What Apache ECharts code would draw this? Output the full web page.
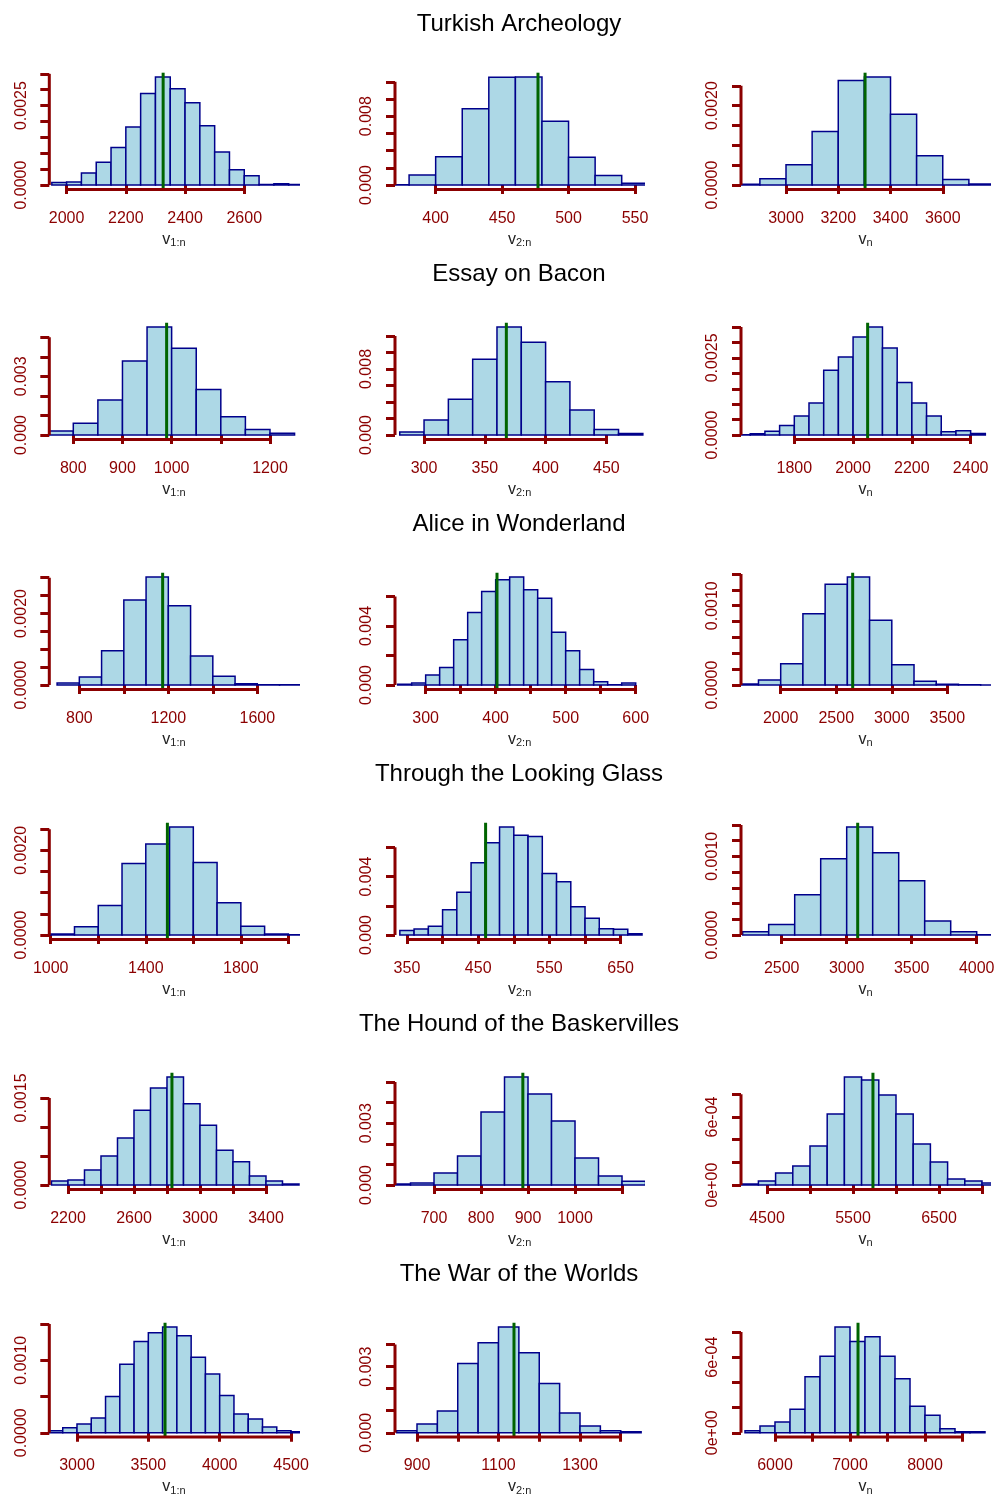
<!DOCTYPE html>
<html>
<head>
<meta charset="utf-8">
<script src="https://cdn.jsdelivr.net/npm/echarts@6/dist/echarts.min.js"></script>
<style>
html,body{margin:0;padding:0;background:#fff;}
#chart{width:998px;height:1497px;}
</style>
</head>
<body>
<div id="chart"></div>
<script>
// ---------- data ----------
const bookTitles = ["Turkish Archeology", "Essay on Bacon", "Alice in Wonderland",
  "Through the Looking Glass", "The Hound of the Baskervilles", "The War of the Worlds"];
const subLabels = ["1:n", "2:n", "n"];

// histogram densities (one array per panel)
const dens_TA_v1 = [0.00008, 0.0001, 0.00038, 0.00072, 0.00118, 0.00183, 0.00288, 0.0034, 0.00303, 0.00259, 0.00187, 0.00104, 0.00048, 0.00029, 0.00002, 0.00004, 0.00002];
const dens_TA_v2 = [0.00005, 0.00118, 0.00329, 0.00886, 0.01251, 0.01255, 0.00741, 0.00322, 0.0011, 0.0002];
const dens_TA_vn = [0.00002, 0.00016, 0.00051, 0.00135, 0.00263, 0.00272, 0.00178, 0.00074, 0.00014, 0.00003];
const dens_EB_v1 = [0.00021, 0.0006, 0.00179, 0.00379, 0.00552, 0.00443, 0.00233, 0.00093, 0.00029, 0.00009];
const dens_EB_v2 = [0.00037, 0.00183, 0.00435, 0.00918, 0.01308, 0.01125, 0.00646, 0.00305, 0.00069, 0.0002];
const dens_EB_vn = [0.00001, 0.00004, 0.00012, 0.00031, 0.00062, 0.00104, 0.0021, 0.00253, 0.00318, 0.0035, 0.00282, 0.0017, 0.00104, 0.00062, 0.00011, 0.00014, 0.00005];
const dens_AW_v1 = [0.000057, 0.000226, 0.00096, 0.00238, 0.00302, 0.00222, 0.00081, 0.000245, 0.00004, 0.00001, 0.00001];
const dens_AW_v2 = [0.00005, 0.00014, 0.00069, 0.00119, 0.00306, 0.00491, 0.00633, 0.00713, 0.00731, 0.00645, 0.00587, 0.00357, 0.00233, 0.00105, 0.00023, 0.00002, 0.00014];
const dens_AW_vn = [0.000013, 0.000064, 0.000268, 0.000898, 0.001272, 0.001362, 0.000817, 0.000255, 0.000047, 0.000009, 0.000004, 0.000002];
const dens_TL_v1 = [0.000024, 0.000198, 0.000698, 0.00169, 0.00215, 0.00255, 0.00171, 0.00076, 0.000206, 0.000024, 0.000008];
const dens_TL_v2 = [0.00032, 0.00042, 0.0006, 0.00173, 0.00293, 0.00494, 0.0063, 0.00738, 0.00681, 0.00674, 0.0042, 0.00365, 0.00194, 0.00115, 0.00044, 0.00039, 0.00009];
const dens_TL_vn = [0.000043, 0.000133, 0.000511, 0.00097, 0.001373, 0.001047, 0.000691, 0.00018, 0.000043, 0.000004];
const dens_HB_v1 = [0.000069, 0.000086, 0.000259, 0.0005, 0.00081, 0.00129, 0.00167, 0.00186, 0.0014, 0.00103, 0.0006, 0.0004, 0.000155, 0.000069, 0.000017];
const dens_HB_v2 = [0.00005, 0.0001, 0.00058, 0.00141, 0.00354, 0.00524, 0.00442, 0.00311, 0.00131, 0.00044, 0.00019];
const dens_HB_vn = [0.0000088, 0.000035, 0.000106, 0.000167, 0.000344, 0.000626, 0.000952, 0.000925, 0.000793, 0.000626, 0.000361, 0.000203, 0.000053, 0.000035, 0.000018];
const dens_WW_v1 = [0.000027, 0.000068, 0.000122, 0.000203, 0.0005, 0.000946, 0.001257, 0.001378, 0.001459, 0.001338, 0.00104, 0.000811, 0.000514, 0.000257, 0.000189, 0.000081, 0.000027, 0.0000135];
const dens_WW_v2 = [0.00009, 0.0004, 0.00099, 0.00314, 0.00408, 0.0048, 0.00363, 0.00224, 0.0009, 0.00031, 0.00009, 0.000045];
const dens_WW_vn = [0.0000156, 0.0000545, 0.0000856, 0.000187, 0.000444, 0.000607, 0.00084, 0.000724, 0.000762, 0.000607, 0.000428, 0.00021, 0.00014, 0.000031, 0.0000078, 0.0000078];

const densities = [dens_TA_v1, dens_TA_v2, dens_TA_vn, dens_EB_v1, dens_EB_v2, dens_EB_vn,
  dens_AW_v1, dens_AW_v2, dens_AW_vn, dens_TL_v1, dens_TL_v2, dens_TL_vn,
  dens_HB_v1, dens_HB_v2, dens_HB_vn, dens_WW_v1, dens_WW_v2, dens_WW_vn];

const breakStart = [1950, 360, 2800, 750, 280, 1600, 700, 260, 1600, 1000, 340, 2200, 2100, 600, 4200, 2800, 850, 5600];
const breakWidth = [50, 20, 100, 50, 20, 50, 100, 20, 200, 100, 20, 200, 100, 50, 200, 100, 50, 200];
const observed = [2326, 477, 3302.6, 989.8, 367.7, 2049.5, 1174.5, 401.9, 2648, 1490.9, 460.4, 3084.6, 2830, 889, 5732, 3617, 1138, 7107];

const xLimits = [[1941.5, 2783.5], [369.4, 557], [2827.7, 3782],
  [751.2, 1258.2], [276.1, 481.2], [1618.6, 2466.9],
  [665, 1785.6], [256.2, 612.3], [1642.7, 3886.6],
  [994, 2043], [333.2, 683.2], [2187, 4104.6],
  [2086.7, 3597.6], [617, 1147.4], [4197.7, 7096.5],
  [2805.9, 4553], [846, 1457.8], [5546.7, 8870.7]];

const xTicks = [[2000, 2200, 2400, 2600], [400, 450, 500, 550], [3000, 3200, 3400, 3600],
  [800, 900, 1000, 1100, 1200], [300, 350, 400, 450], [1800, 2000, 2200, 2400],
  [800, 1000, 1200, 1400, 1600], [300, 350, 400, 450, 500, 550, 600], [2000, 2500, 3000, 3500],
  [1000, 1200, 1400, 1600, 1800, 2000], [350, 400, 450, 500, 550, 600, 650], [2500, 3000, 3500, 4000],
  [2200, 2400, 2600, 2800, 3000, 3200, 3400], [700, 800, 900, 1000, 1100], [4500, 5000, 5500, 6000, 6500, 7000],
  [3000, 3500, 4000, 4500], [900, 1000, 1100, 1200, 1300, 1400], [6000, 6500, 7000, 7500, 8000, 8500]];
const xTickLabels = [[2000, 2200, 2400, 2600], [400, 450, 500, 550], [3000, 3200, 3400, 3600],
  [800, 900, 1000, 1200], [300, 350, 400, 450], [1800, 2000, 2200, 2400],
  [800, 1200, 1600], [300, 400, 500, 600], [2000, 2500, 3000, 3500],
  [1000, 1400, 1800], [350, 450, 550, 650], [2500, 3000, 3500, 4000],
  [2200, 2600, 3000, 3400], [700, 800, 900, 1000], [4500, 5500, 6500],
  [3000, 3500, 4000, 4500], [900, 1100, 1300], [6000, 7000, 8000]];

const yTicks = [[0, 0.0005, 0.001, 0.0015, 0.002, 0.0025, 0.003, 0.0035], [0, 0.002, 0.004, 0.006, 0.008, 0.01, 0.012], [0, 0.0005, 0.001, 0.0015, 0.002, 0.0025],
  [0, 0.001, 0.002, 0.003, 0.004, 0.005], [0, 0.002, 0.004, 0.006, 0.008, 0.01, 0.012], [0, 0.0005, 0.001, 0.0015, 0.002, 0.0025, 0.003, 0.0035],
  [0, 0.0005, 0.001, 0.0015, 0.002, 0.0025, 0.003], [0, 0.002, 0.004, 0.006], [0, 0.0002, 0.0004, 0.0006, 0.0008, 0.001, 0.0012, 0.0014],
  [0, 0.0005, 0.001, 0.0015, 0.002, 0.0025], [0, 0.002, 0.004, 0.006], [0, 0.0002, 0.0004, 0.0006, 0.0008, 0.001, 0.0012, 0.0014],
  [0, 0.0005, 0.001, 0.0015], [0, 0.001, 0.002, 0.003, 0.004, 0.005], [0, 0.0002, 0.0004, 0.0006, 0.0008],
  [0, 0.0005, 0.001, 0.0015], [0, 0.001, 0.002, 0.003, 0.004], [0, 0.0002, 0.0004, 0.0006, 0.0008]];
const yTickLabels = [[0, 0.0025], [0, 0.008], [0, 0.002],
  [0, 0.003], [0, 0.008], [0, 0.0025],
  [0, 0.002], [0, 0.004], [0, 0.001],
  [0, 0.002], [0, 0.004], [0, 0.001],
  [0, 0.0015], [0, 0.003], [0, 0.0006],
  [0, 0.001], [0, 0.003], [0, 0.0006]];
const yDigits = [4, 3, 4, 3, 3, 4, 4, 3, 4, 4, 3, 4, 4, 3, 'sci', 4, 3, 'sci'];

// ---------- layout / style ----------
const FONT = '"Liberation Sans", Arial, Helvetica, sans-serif';
const RED = '#8B0000';
const GRID_LEFT = [49.3, 395, 741];
const GRID_W = 249.3, GRID_TOP0 = 72.7, ROW_STEP = 250, GRID_H = 116.7;

function sciFmt(v) {
  if (v === 0) return '0e+00';
  const parts = v.toExponential(0).split('e');
  const e = +parts[1];
  return parts[0] + 'e' + (e < 0 ? '-' : '+') + String(Math.abs(e)).padStart(2, '0');
}

const grids = [], xAxes = [], yAxes = [], series = [];
for (let i = 0; i < 18; i++) {
  const r = Math.floor(i / 3), c = i % 3;
  const dens = densities[i];
  const M = Math.max.apply(null, dens);
  const yMin = -0.04 * M, yMax = 1.04 * M;
  const xMin = xLimits[i][0], xMax = xLimits[i][1];
  grids.push({left: GRID_LEFT[c], top: GRID_TOP0 + r * ROW_STEP, width: GRID_W, height: GRID_H});
  const dg = yDigits[i];
  xAxes.push({
    gridIndex: i, type: 'value', min: xMin, max: xMax,
    axisLine: {show: false}, splitLine: {show: false},
    axisTick: {show: true, customValues: xTicks[i], length: 9, lineStyle: {color: RED, width: 3}},
    axisLabel: {customValues: xTickLabels[i], color: RED, fontSize: 16, fontFamily: FONT, margin: 21,
      formatter: v => String(v)},
    name: '{v|v}{s|' + subLabels[c] + '}', nameLocation: 'middle', nameGap: 41,
    nameTextStyle: {color: '#222', fontFamily: FONT,
      rich: {v: {fontSize: 16, color: '#222', fontFamily: FONT},
             s: {fontSize: 11, color: '#222', fontFamily: FONT, padding: [7, 0, 0, 0]}}}
  });
  yAxes.push({
    gridIndex: i, type: 'value', min: yMin, max: yMax,
    axisLine: {show: false}, splitLine: {show: false},
    axisTick: {show: true, customValues: yTicks[i], length: 9, lineStyle: {color: RED, width: 3}},
    axisLabel: {customValues: yTickLabels[i], rotate: 90, color: RED, fontSize: 16, fontFamily: FONT, margin: 20,
      formatter: v => dg === 'sci' ? sciFmt(v) : Number(v).toFixed(dg)}
  });
  const bins = dens.map((d, k) => [breakStart[i] + k * breakWidth[i], breakStart[i] + (k + 1) * breakWidth[i], d]);
  series.push({
    type: 'custom', xAxisIndex: i, yAxisIndex: i, clip: true, silent: true, z: 2,
    encode: {x: [0, 1], y: 2},
    data: bins,
    renderItem: function (params, api) {
      const a = api.coord([api.value(0), 0]);
      const b = api.coord([api.value(1), api.value(2)]);
      return {type: 'rect', shape: {x: a[0], y: b[1], width: b[0] - a[0], height: a[1] - b[1]},
        style: {fill: '#ADD8E6', stroke: '#00008B', lineWidth: 1.5}};
    }
  });
  series.push({
    type: 'line', xAxisIndex: i, yAxisIndex: i, clip: false, silent: true, z: 4,
    symbol: 'none', data: [[observed[i], yMin], [observed[i], yMax]],
    lineStyle: {color: '#006400', width: 3}
  });
  const xt = xTicks[i], yt = yTicks[i];
  series.push({
    type: 'line', xAxisIndex: i, yAxisIndex: i, clip: false, silent: true, z: 5,
    symbol: 'none', data: [[xt[0], yMin], [xt[xt.length - 1], yMin]],
    lineStyle: {color: RED, width: 3}
  });
  series.push({
    type: 'line', xAxisIndex: i, yAxisIndex: i, clip: false, silent: true, z: 5,
    symbol: 'none', data: [[xMin, yt[0]], [xMin, yt[yt.length - 1]]],
    lineStyle: {color: RED, width: 3}
  });
}

const titles = bookTitles.map((t, r) => ({
  text: t, left: 519, top: 12 + r * ROW_STEP, textAlign: 'center', padding: 0,
  textStyle: {fontSize: 24, fontWeight: 'normal', color: '#000', fontFamily: FONT}
}));

const chart = echarts.init(document.getElementById('chart'), null, {renderer: 'canvas'});
chart.setOption({
  backgroundColor: '#fff',
  animation: false,
  title: titles,
  grid: grids,
  xAxis: xAxes,
  yAxis: yAxes,
  series: series
});
</script>
</body>
</html>
